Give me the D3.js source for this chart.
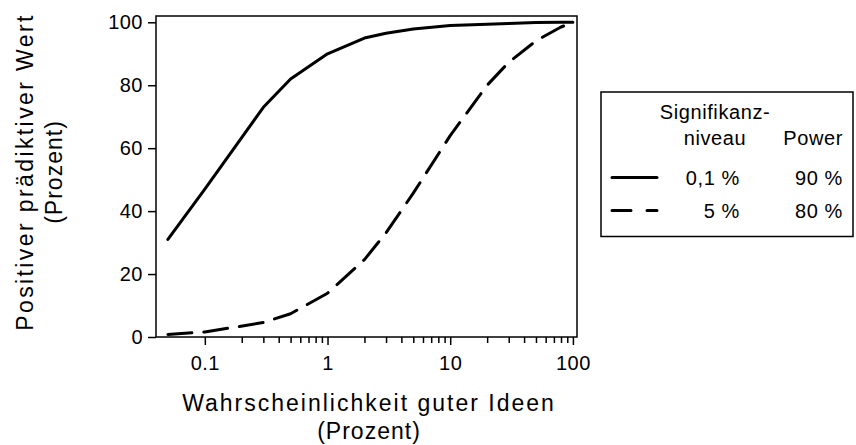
<!DOCTYPE html>
<html>
<head>
<meta charset="utf-8">
<script src="https://cdn.jsdelivr.net/npm/d3@7"></script>
<style>
  body { margin: 0; background: #fff; }
  text { font-family: "Liberation Sans", Arial, sans-serif; fill: #000; }
</style>
</head>
<body>
<div id="chart"></div>
<script>
// values
const probability = [0.05, 0.1, 0.3, 0.5, 1, 2, 3, 5, 10, 20, 30, 50, 80, 100];
const ppvStrict   = [31, 47, 73, 82, 90, 95, 96.5, 97.9, 99, 99.4, 99.6, 99.9, 100, 100];
const ppvLoose    = [0.8, 1.6, 4.6, 7.4, 13.9, 24.6, 33.1, 45.7, 64, 80, 87.3, 94.1, 98.5, 100];
const xTicks = [0.1, 1, 10, 100];
const yTicks = [0, 20, 40, 60, 80, 100];
const sigLevels = ["0,1 %", "5 %"];
const powers = ["90 %", "80 %"];

const width = 856, height = 445;
const plot = { left: 156, right: 577, top: 16, bottom: 337 };

const svg = d3.select("#chart").append("svg")
  .attr("width", width)
  .attr("height", height);

const x = d3.scaleLog().domain([0.04, 108]).range([plot.left, plot.right]);
const y = d3.scaleLinear().domain([0, 102]).range([plot.bottom, plot.top]);

// minor ticks 2..9 for every decade from 0.1 up
const minorTicks = [];
[0.1, 1, 10].forEach(d => { for (let k = 2; k <= 9; k++) minorTicks.push(+(d * k).toPrecision(3)); });

// x axis (major)
const gx = svg.append("g")
  .attr("transform", `translate(0,${plot.bottom})`)
  .call(d3.axisBottom(x).tickValues(xTicks).tickFormat(d3.format("~g")).tickSize(8).tickSizeOuter(0).tickPadding(11));
gx.select(".domain").remove();
gx.selectAll("line").attr("stroke-width", 1.5);
gx.selectAll("text").attr("font-size", 20).attr("letter-spacing", 0.5);

// x axis (minor)
const gxm = svg.append("g")
  .attr("transform", `translate(0,${plot.bottom})`)
  .call(d3.axisBottom(x).tickValues(minorTicks).tickFormat("").tickSize(6).tickSizeOuter(0));
gxm.select(".domain").remove();
gxm.selectAll("line").attr("stroke-width", 1.5);

// y axis
const gy = svg.append("g")
  .attr("transform", `translate(${plot.left},0)`)
  .call(d3.axisLeft(y).tickValues(yTicks).tickSize(8).tickSizeOuter(0).tickPadding(5));
gy.select(".domain").remove();
gy.selectAll("line").attr("stroke-width", 1.5);
gy.selectAll("text").attr("font-size", 20).attr("letter-spacing", 0.5);

// frame
svg.append("rect")
  .attr("x", plot.left).attr("y", plot.top)
  .attr("width", plot.right - plot.left).attr("height", plot.bottom - plot.top)
  .attr("fill", "none").attr("stroke", "#000").attr("stroke-width", 1.5);

// lines
const line = vals => d3.line()
  .x((d, i) => x(probability[i]))
  .y(d => y(d))(vals);

svg.append("path")
  .attr("d", line(ppvStrict))
  .attr("fill", "none").attr("stroke", "#000").attr("stroke-width", 3)
  .attr("stroke-linejoin", "round").attr("stroke-linecap", "round");

svg.append("path")
  .attr("d", line(ppvLoose))
  .attr("fill", "none").attr("stroke", "#000").attr("stroke-width", 3)
  .attr("stroke-dasharray", "24,12")
  .attr("stroke-linejoin", "round").attr("stroke-linecap", "round");

// axis titles
const xTitle = svg.append("text")
  .attr("text-anchor", "middle").attr("font-size", 23).attr("letter-spacing", 2);
xTitle.append("tspan").attr("x", 369).attr("y", 411).text("Wahrscheinlichkeit guter Ideen");
xTitle.append("tspan").attr("x", 369).attr("y", 439).attr("letter-spacing", 1).text("(Prozent)");

const yTitle = svg.append("text")
  .attr("text-anchor", "middle").attr("font-size", 23).attr("letter-spacing", 2.4)
  .attr("transform", "translate(0,172) rotate(-90)");
yTitle.append("tspan").attr("x", 0).attr("y", 33).text("Positiver prädiktiver Wert");
yTitle.append("tspan").attr("x", 0).attr("y", 62).attr("letter-spacing", 1).text("(Prozent)");

// legend
const lg = svg.append("g");
lg.append("rect")
  .attr("x", 601).attr("y", 92).attr("width", 252).attr("height", 144.5)
  .attr("fill", "none").attr("stroke", "#000").attr("stroke-width", 1.5);

lg.append("text").attr("x", 715).attr("y", 119).attr("text-anchor", "middle")
  .attr("font-size", 20).attr("letter-spacing", 0.6).text("Signifikanz-");
lg.append("text").attr("x", 715).attr("y", 145).attr("text-anchor", "middle")
  .attr("font-size", 20).attr("letter-spacing", 0.6).text("niveau");
lg.append("text").attr("x", 843).attr("y", 145).attr("text-anchor", "end")
  .attr("font-size", 20).attr("letter-spacing", 0.6).text("Power");

const rowY = [185, 218];
const dashes = [null, "19,16"];
sigLevels.forEach((s, i) => {
  lg.append("line")
    .attr("x1", 612).attr("x2", 657)
    .attr("y1", rowY[i] - 7.5).attr("y2", rowY[i] - 7.5)
    .attr("stroke", "#000").attr("stroke-width", 3)
    .attr("stroke-linecap", "round")
    .attr("stroke-dasharray", dashes[i]);
  lg.append("text").attr("x", 740).attr("y", rowY[i]).attr("text-anchor", "end")
    .attr("font-size", 20).attr("letter-spacing", 0.6).text(s);
  lg.append("text").attr("x", 843).attr("y", rowY[i]).attr("text-anchor", "end")
    .attr("font-size", 20).attr("letter-spacing", 0.6).text(powers[i]);
});
</script>
</body>
</html>
